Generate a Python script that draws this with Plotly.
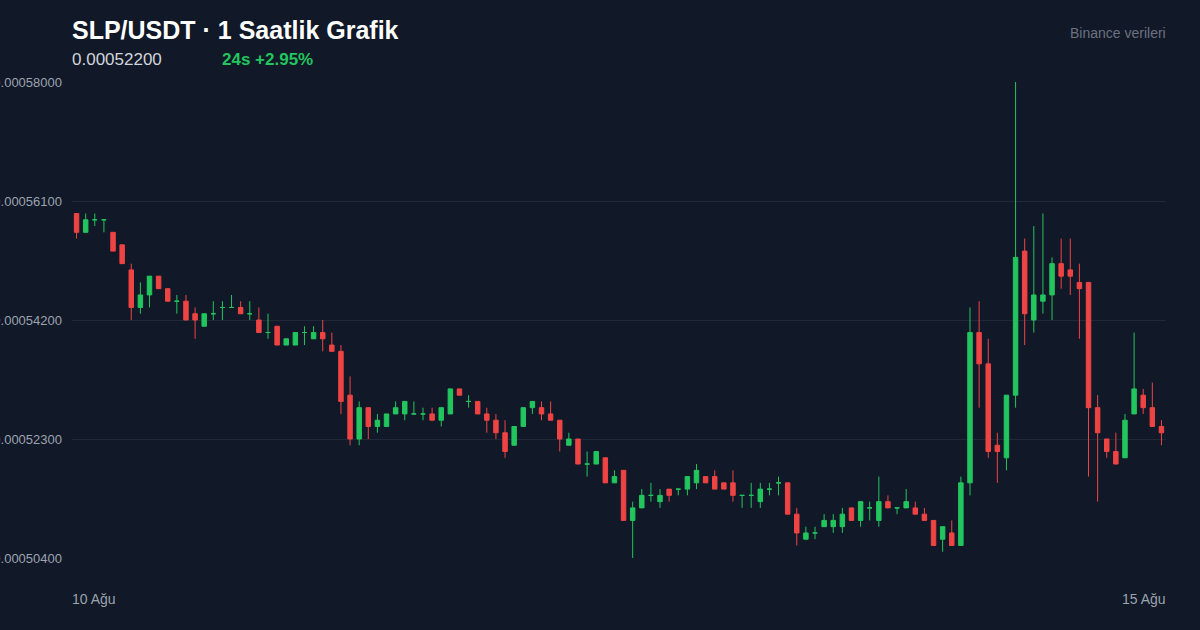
import plotly.graph_objects as go
import pandas as pd

# Hourly candles (prices in units of 1e-6 USDT)
times = pd.date_range("2024-08-10 04:00", periods=120, freq="h")

opens = [559, 556, 558, 558, 556, 554, 550, 544, 546, 549,
         547, 545, 545, 543, 541, 543, 544, 544, 544, 543,
         542, 540, 541, 538, 538, 540, 539, 540, 538, 537,
         530, 523, 528, 525, 525, 527, 527, 527, 527, 527,
         526, 527, 531, 529, 529, 527, 526, 524, 522, 525,
         528, 528, 527, 526, 522, 523, 519, 519, 520, 516,
         518, 510, 512, 514, 513, 515, 515, 515, 516, 517,
         517, 516, 516, 514, 514, 513, 515, 516, 516, 511,
         507, 508, 509, 509, 509, 512, 510, 512, 510, 513,
         512, 512, 512, 511, 510, 507, 508, 506, 516, 540,
         535, 522, 520, 530, 553, 542, 545, 546, 551, 550,
         548, 548, 528, 523, 521, 520, 527, 530, 528, 525]

highs = [559, 559, 559, 558, 556, 554, 551, 548, 549, 549,
         547, 546, 546, 544, 543, 545, 545, 546, 545, 545,
         544, 543, 541, 539, 540, 541, 541, 542, 540, 538,
         533, 529, 528, 527, 527, 529, 529, 529, 528, 528,
         528, 531, 531, 530, 529, 528, 527, 526, 525, 528,
         529, 529, 529, 526, 524, 523, 521, 521, 520, 518,
         518, 513, 515, 516, 515, 515, 515, 517, 519, 517,
         518, 516, 518, 514, 516, 516, 516, 517, 516, 512,
         509, 509, 511, 511, 512, 512, 513, 513, 517, 514,
         512, 515, 513, 512, 510, 509, 510, 517, 544, 545,
         539, 524, 530, 580, 555, 557, 559, 552, 555, 555,
         551, 548, 530, 523, 524, 527, 540, 531, 532, 526]

lows = [555, 556, 557, 556, 553, 551, 542, 543, 544, 547,
        545, 543, 542, 539, 541, 542, 542, 544, 543, 542,
        540, 539, 538, 538, 538, 538, 539, 537, 537, 527,
        522, 522, 523, 524, 525, 527, 526, 527, 526, 526,
        525, 527, 530, 528, 527, 524, 523, 520, 522, 525,
        527, 526, 526, 521, 522, 519, 517, 519, 516, 516,
        510, 504, 512, 513, 512, 513, 514, 514, 515, 516,
        515, 515, 513, 512, 512, 512, 514, 514, 511, 506,
        507, 507, 509, 508, 508, 510, 509, 510, 509, 512,
        511, 512, 511, 510, 506, 505, 506, 506, 514, 528,
        520, 516, 518, 528, 538, 540, 543, 542, 547, 546,
        539, 517, 513, 520, 519, 520, 527, 527, 525, 522]

closes = [556, 558, 558, 558, 553, 551, 544, 546, 549, 547,
          545, 545, 542, 542, 543, 543, 544, 544, 543, 543,
          540, 540, 538, 539, 540, 540, 540, 539, 537, 529,
          523, 528, 525, 526, 527, 528, 529, 527, 527, 526,
          528, 531, 530, 529, 527, 526, 524, 521, 525, 528,
          529, 527, 526, 523, 523, 519, 519, 521, 516, 517,
          510, 512, 514, 514, 514, 514, 515, 517, 518, 516,
          515, 515, 514, 514, 514, 515, 515, 516, 511, 508,
          508, 508, 510, 510, 511, 510, 513, 512, 513, 512,
          512, 513, 511, 510, 506, 509, 506, 516, 540, 535,
          521, 521, 530, 552, 543, 546, 546, 551, 549, 549,
          547, 528, 524, 521, 519, 526, 531, 528, 525, 524]

unit = 1e-6
tick_values = [504, 523, 542, 561, 580]
tick_labels = ["0.00050400", "0.00052300", "0.00054200", "0.00056100", "0.00058000"]
date_labels = ["10 Ağu", "15 Ağu"]

UP = "#22c55e"
DOWN = "#ef4444"
BG = "#111827"
GRID = "#1f2937"
FONT = "Liberation Sans, Arial, Helvetica, sans-serif"


def candle_trace(idx, color):
    return go.Candlestick(
        x=[times[i] for i in idx],
        open=[opens[i] * unit for i in idx],
        high=[highs[i] * unit for i in idx],
        low=[lows[i] * unit for i in idx],
        close=[closes[i] * unit for i in idx],
        increasing=dict(line=dict(color=color, width=1), fillcolor=color),
        decreasing=dict(line=dict(color=color, width=1), fillcolor=color),
        whiskerwidth=0,
        showlegend=False,
        hoverinfo="skip",
    )


up_idx = [i for i in range(len(times)) if closes[i] >= opens[i]]
down_idx = [i for i in range(len(times)) if closes[i] < opens[i]]

fig = go.Figure()
fig.add_trace(candle_trace(up_idx, UP))
fig.add_trace(candle_trace(down_idx, DOWN))

half = pd.Timedelta(minutes=30)
fig.update_layout(
    width=1200,
    height=630,
    paper_bgcolor=BG,
    plot_bgcolor=BG,
    margin=dict(l=72, r=34, t=82, b=72),
    font=dict(family=FONT, color="#9ca3af"),
    xaxis=dict(
        range=[times[0] - half, times[-1] + half],
        showgrid=False,
        zeroline=False,
        showline=False,
        showticklabels=False,
        rangeslider=dict(visible=False),
        fixedrange=True,
    ),
    yaxis=dict(
        range=[tick_values[0] * unit, tick_values[-1] * unit],
        tickvals=[v * unit for v in tick_values],
        ticktext=tick_labels,
        tickfont=dict(size=13, color="#9ca3af", family=FONT),
        showgrid=True,
        gridcolor=GRID,
        gridwidth=1,
        zeroline=False,
        showline=False,
        ticks="",
        ticklabelstandoff=9,
        automargin=False,
        fixedrange=True,
    ),
    annotations=[
        dict(text="<b>SLP/USDT · 1 Saatlik Grafik</b>", xref="paper", yref="paper",
             x=0, y=(558 - 30) / 476, xanchor="left", yanchor="middle", showarrow=False,
             xshift=-2, font=dict(size=25, color="#ffffff", family=FONT)),
        dict(text="0.00052200", xref="paper", yref="paper",
             x=0, y=(558 - 60) / 476, xanchor="left", yanchor="middle", showarrow=False,
             xshift=-2, font=dict(size=17, color="#d1d5db", family=FONT)),
        dict(text="<b>24s +2.95%</b>", xref="paper", yref="paper",
             x=150 / 1094, y=(558 - 60) / 476, xanchor="left", yanchor="middle", showarrow=False,
             xshift=-2, font=dict(size=17, color=UP, family=FONT)),
        dict(text="Binance verileri", xref="paper", yref="paper",
             x=1, y=(558 - 33) / 476, xanchor="right", yanchor="middle", showarrow=False,
             xshift=2, font=dict(size=14, color="#6b7280", family=FONT)),
        dict(text=date_labels[0], xref="paper", yref="paper",
             x=0, y=(558 - 599) / 476, xanchor="left", yanchor="middle", showarrow=False,
             xshift=-2, font=dict(size=14, color="#9ca3af", family=FONT)),
        dict(text=date_labels[1], xref="paper", yref="paper",
             x=1, y=(558 - 599) / 476, xanchor="right", yanchor="middle", showarrow=False,
             xshift=2, font=dict(size=14, color="#9ca3af", family=FONT)),
    ],
)

fig.write_html("out.html", post_script="document.body.style.margin='0';",
               config={"displayModeBar": False})
